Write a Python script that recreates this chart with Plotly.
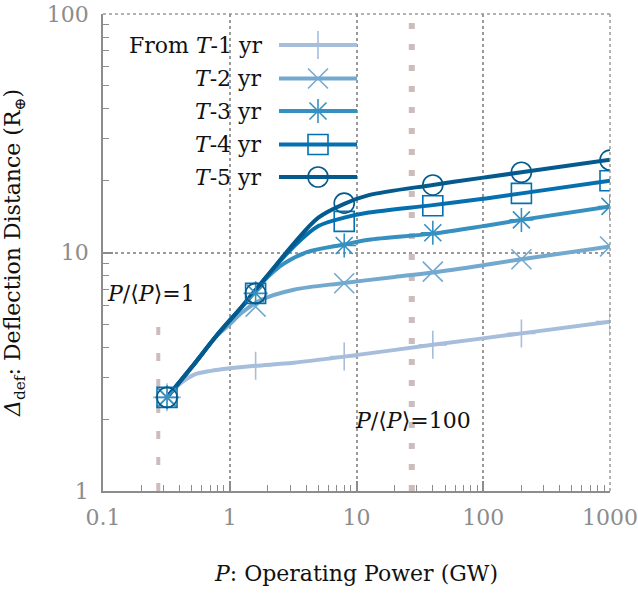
import plotly.graph_objects as go
import math

# ---------------- data ----------------
x_sim = [0.32, 1.6, 8, 40, 200, 1000]
sim_t1 = [2.47, 3.35, 3.66, 4.10, 4.58, 5.13]
sim_t2 = [2.47, 5.93, 7.43, 8.31, 9.37, 10.6]
sim_t3 = [2.47, 6.74, 10.7, 12.1, 13.7, 15.6]
sim_t4 = [2.47, 6.74, 13.5, 15.7, 17.7, 20.0]
sim_t5 = [2.47, 6.74, 16.1, 19.2, 21.7, 24.4]

fit_x_t1 = [0.32, 0.41, 0.52, 0.71, 1.0, 1.6, 3.2, 8, 40, 200, 1000]
fit_y_t1 = [2.47, 2.83, 3.07, 3.19, 3.27, 3.35, 3.45, 3.66, 4.10, 4.58, 5.13]
fit_x_t2 = [0.32, 0.5, 0.8, 1.0, 1.25, 1.76, 3.2, 8, 20, 40, 100, 200, 1000]
fit_y_t2 = [2.47, 3.30, 4.50, 5.0, 5.6, 6.32, 6.98, 7.45, 7.9, 8.25, 8.85, 9.37, 10.6]
fit_x_t3 = [0.32, 0.5, 0.8, 1.25, 2.0, 2.69, 4.11, 8, 12.5, 40, 100, 200, 1000]
fit_y_t3 = [2.47, 3.30, 4.53, 5.94, 7.9, 9.0, 10.05, 10.8, 11.3, 12.0, 12.9, 13.7, 15.6]
fit_x_t4 = [0.32, 0.5, 0.8, 1.25, 2.0, 3.2, 5.0, 8, 12.5, 40, 100, 200, 1000]
fit_y_t4 = [2.47, 3.30, 4.53, 5.94, 8.05, 10.6, 12.9, 14.0, 14.7, 15.8, 16.8, 17.7, 20.0]
fit_x_t5 = [0.32, 0.5, 0.8, 1.25, 2.0, 3.2, 5.0, 8, 12.5, 40, 100, 200, 1000]
fit_y_t5 = [2.47, 3.30, 4.53, 5.94, 8.05, 10.9, 14.0, 16.0, 17.4, 19.2, 20.6, 21.7, 24.5]

series_names = ["From <i>T</i>-1 yr", "<i>T</i>-2 yr", "<i>T</i>-3 yr", "<i>T</i>-4 yr", "<i>T</i>-5 yr"]
colors = ["#a6bddb", "#74a9cf", "#3690c0", "#0570b0", "#045a8d"]
symbols = ["cross-thin-open", "x-thin-open", "asterisk-open", "square-open", "circle-open"]

p_mean = 0.273          # <P>
ref_ratios = [1, 100]   # P/<P> reference lines
ref1_top = 5.6

x_ticks = [0.1, 1, 10, 100, 1000]
x_tick_text = ["0.1", "1", "10", "100", "1000"]
y_ticks = [1, 10, 100]
y_tick_text = ["1", "10", "100"]

# --------------- figure ---------------
FONT = "DejaVu Serif"
FS = 22
GRAY = "#8c8c8c"
GRID = "#9a9a9a"
fig = go.Figure()

# reference lines (drawn first)
fig.add_trace(go.Scatter(x=[p_mean * ref_ratios[0]] * 2, y=[1, ref1_top], mode="lines",
                         line=dict(color="#ccbcbc", width=4, dash="8px,18px"),
                         hoverinfo="skip", showlegend=False))
fig.add_trace(go.Scatter(x=[p_mean * ref_ratios[1]] * 2, y=[1, 100], mode="lines",
                         line=dict(color="#ccbcbc", width=6, dash="6px,15px"),
                         hoverinfo="skip", showlegend=False))

fits = [(fit_x_t1, fit_y_t1), (fit_x_t2, fit_y_t2), (fit_x_t3, fit_y_t3),
        (fit_x_t4, fit_y_t4), (fit_x_t5, fit_y_t5)]
sims = [sim_t1, sim_t2, sim_t3, sim_t4, sim_t5]

for i in range(5):
    fx, fy = fits[i]
    fig.add_trace(go.Scatter(x=fx, y=fy, mode="lines",
                             line=dict(color=colors[i], width=4, shape="spline", smoothing=0.9),
                             showlegend=False, hoverinfo="skip"))
for i in range(5):
    fig.add_trace(go.Scatter(x=x_sim, y=sims[i], mode="markers",
                             marker=dict(symbol=symbols[i], size=20, color=colors[i],
                                         line=dict(color=colors[i], width=1.6)),
                             showlegend=False, name=series_names[i]))

# manual legend on an overlay axis in plot-pixel units
leg_rows = [31, 64.5, 97, 130.5, 163]
for i in range(5):
    ry = leg_rows[i]
    fig.add_trace(go.Scatter(x=[176, 254], y=[ry, ry], xaxis="x2", yaxis="y2", mode="lines",
                             line=dict(color=colors[i], width=4), showlegend=False, hoverinfo="skip"))
    fig.add_trace(go.Scatter(x=[215], y=[ry], xaxis="x2", yaxis="y2", mode="markers",
                             marker=dict(symbol=symbols[i], size=20, color=colors[i],
                                         line=dict(color=colors[i], width=1.6)),
                             showlegend=False, hoverinfo="skip"))
    fig.add_annotation(x=161, y=ry, xref="x2", yref="y2", text=series_names[i],
                       showarrow=False, xanchor="right", yanchor="middle",
                       font=dict(family=FONT, size=FS, color="#111111"))

# reference labels
fig.add_annotation(x=math.log10(0.103), y=math.log10(6.75), xref="x", yref="y",
                   text="<i>P</i>/⟨<i>P</i>⟩=1", showarrow=False, xanchor="left", yanchor="middle",
                   font=dict(family=FONT, size=FS, color="#111111"))
fig.add_annotation(x=math.log10(9.3), y=math.log10(1.97), xref="x", yref="y",
                   text="<i>P</i>/⟨<i>P</i>⟩=100", showarrow=False, xanchor="left", yanchor="middle",
                   font=dict(family=FONT, size=FS, color="#111111"))

# dotted top and right borders
fig.add_shape(type="line", xref="paper", yref="paper", x0=0, x1=1, y0=1, y1=1,
              line=dict(color=GRID, width=1.5, dash="dot"))
fig.add_shape(type="line", xref="paper", yref="paper", x0=1, x1=1, y0=0, y1=1,
              line=dict(color=GRID, width=1.5, dash="dot"))

fig.update_layout(
    width=638, height=595,
    margin=dict(l=103, r=28, t=14, b=104),
    plot_bgcolor="white", paper_bgcolor="white",
    font=dict(family=FONT, color=GRAY, size=FS),
    showlegend=False,
    xaxis=dict(type="log", range=[-1, 3], tickvals=x_ticks, ticktext=x_tick_text,
               automargin=False,
               showline=True, linecolor=GRAY, linewidth=1.5, mirror=False,
               ticks="inside", ticklen=10, tickwidth=1.5, tickcolor=GRAY,
               minor=dict(ticks="inside", ticklen=6, tickwidth=1.2, tickcolor=GRAY,
                          dtick="D1", showgrid=False),
               showgrid=True, gridcolor=GRID, griddash="dot", gridwidth=1.5,
               zeroline=False, tickfont=dict(family=FONT, size=FS, color=GRAY),
               ticklabelstandoff=6,
               title=dict(text="<i>P</i>: Operating Power (GW)", standoff=36,
                          font=dict(family=FONT, size=FS, color="#111111"))),
    yaxis=dict(type="log", range=[0, 2], tickvals=y_ticks, ticktext=y_tick_text,
               automargin=False,
               showline=True, linecolor=GRAY, linewidth=1.5, mirror=False,
               ticks="inside", ticklen=10, tickwidth=1.5, tickcolor=GRAY,
               minor=dict(ticks="inside", ticklen=6, tickwidth=1.2, tickcolor=GRAY,
                          dtick="D1", showgrid=False),
               showgrid=True, gridcolor=GRID, griddash="dot", gridwidth=1.5,
               zeroline=False, tickfont=dict(family=FONT, size=FS, color=GRAY),
               ticklabelstandoff=8,
               title=dict(text="<i>Δ</i><sub>def</sub>: Deflection Distance (R<sub>⊕</sub>)", standoff=20,
                          font=dict(family=FONT, size=FS, color="#111111"))),
    xaxis2=dict(overlaying="x", range=[0, 507], visible=False, fixedrange=True),
    yaxis2=dict(overlaying="y", range=[477, 0], visible=False, fixedrange=True),
)

fig.write_html("out.html")
